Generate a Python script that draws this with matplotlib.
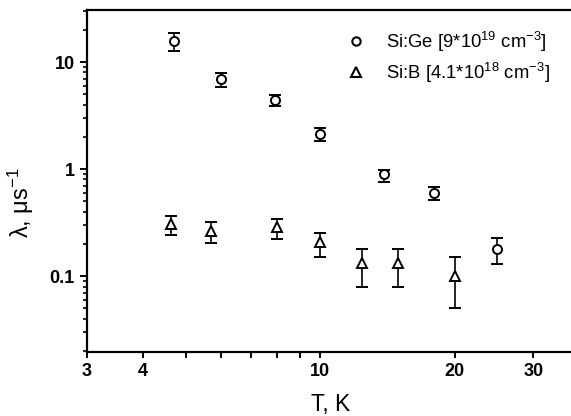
import matplotlib
matplotlib.use("Agg")
import matplotlib.pyplot as plt
from matplotlib.lines import Line2D
from matplotlib.ticker import FixedLocator, NullFormatter, FixedFormatter, LogLocator

plt.rcParams['font.family'] = ['Liberation Sans', 'DejaVu Sans']
plt.rcParams['mathtext.fontset'] = 'custom'
plt.rcParams['mathtext.rm'] = 'Liberation Sans'
plt.rcParams['mathtext.it'] = 'Liberation Sans:italic'
plt.rcParams['mathtext.bf'] = 'Liberation Sans:bold'

# Si:Ge [9*10^19 cm^-3]
ge_T = [4.7, 6.0, 7.9, 10.0, 13.9, 18.0, 24.8]
ge_val = [15.6, 6.9, 4.43, 2.13, 0.90, 0.60, 0.181]
ge_hi = [18.7, 7.9, 4.94, 2.40, 0.99, 0.68, 0.229]
ge_lo = [12.6, 5.9, 3.89, 1.83, 0.76, 0.51, 0.129]

# Si:B [4.1*10^18 cm^-3]
b_T = [4.62, 5.7, 7.98, 10.0, 12.4, 14.9, 20.0]
b_val = [0.309, 0.267, 0.288, 0.207, 0.132, 0.132, 0.100]
b_hi = [0.362, 0.323, 0.344, 0.253, 0.180, 0.180, 0.150]
b_lo = [0.242, 0.204, 0.222, 0.152, 0.080, 0.080, 0.050]

x_ticks = [3, 4, 5, 6, 7, 8, 9, 10, 20, 30]
x_labels = ['3', '4', '', '', '', '', '', '10', '20', '30']
y_ticks = [0.1, 1, 10]
y_labels = ['0.1', '1', '10']
labels = ['Si:Ge [9*10$^{19}$ cm$^{-3}$]', 'Si:B [4.1*10$^{18}$ cm$^{-3}$]']

fig = plt.figure(figsize=(5.71, 4.16), dpi=100)
ax = fig.add_axes([87/571, 1 - 352/416, 1 - 87/571 + 0.01, (352 - 10)/416])

def errs(v, hi, lo):
    return [[a - b for a, b in zip(v, lo)], [b - a for a, b in zip(v, hi)]]

ax.errorbar(ge_T, ge_val, yerr=errs(ge_val, ge_hi, ge_lo), fmt='o', mfc='white',
            mec='black', color='black', ms=6.5, mew=1.4, elinewidth=1.2, capsize=4,
            capthick=1.2, ls='none')
ax.errorbar(b_T, b_val, yerr=errs(b_val, b_hi, b_lo), fmt='^', mfc='white',
            mec='black', color='black', ms=7, mew=1.4, elinewidth=1.2, capsize=4,
            capthick=1.2, ls='none')

ax.set_xscale('log')
ax.set_yscale('log')
ax.set_xlim(3, 37.5)
ax.set_ylim(0.0196, 30.6)

ax.xaxis.set_major_locator(FixedLocator(x_ticks))
ax.xaxis.set_major_formatter(FixedFormatter(x_labels))
ax.xaxis.set_minor_locator(FixedLocator([]))
ax.yaxis.set_major_locator(FixedLocator(y_ticks))
ax.yaxis.set_major_formatter(FixedFormatter(y_labels))
ax.yaxis.set_minor_locator(LogLocator(base=10, subs=range(2, 10)))
ax.yaxis.set_minor_formatter(NullFormatter())

for s in ['left', 'bottom', 'top']:
    ax.spines[s].set_linewidth(1.6)
ax.spines['right'].set_visible(False)

ax.tick_params(axis='both', which='major', direction='out', length=5, width=1.4,
               labelsize=13, pad=4)
ax.tick_params(axis='y', which='minor', direction='out', length=3, width=1.2)
ax.tick_params(axis='x', which='major', length=4)
ax.tick_params(top=False, right=False)
for lab in ax.get_xticklabels() + ax.get_yticklabels():
    lab.set_fontweight('bold')

ax.set_xlabel('T, K', fontsize=16.5, va='baseline')
ax.xaxis.set_label_coords(0.498, (352 - 411) / 342)
ax.set_ylabel('λ, μs$^{-1}$', fontsize=17)
ax.yaxis.set_label_coords((36 - 87) / 490, 0.436)

handles = [
    Line2D([], [], marker='o', ls='none', mfc='white', mec='black', ms=6, mew=1.5),
    Line2D([], [], marker='^', ls='none', mfc='white', mec='black', ms=6.5, mew=1.5),
]
leg = ax.legend(handles, labels, loc='upper left', bbox_to_anchor=(0.527, 0.942),
                frameon=False, fontsize=13.3, handletextpad=1.0, labelspacing=0.35,
                handlelength=1.2, borderpad=0, borderaxespad=0)

fig.savefig('out.png', dpi=100)
